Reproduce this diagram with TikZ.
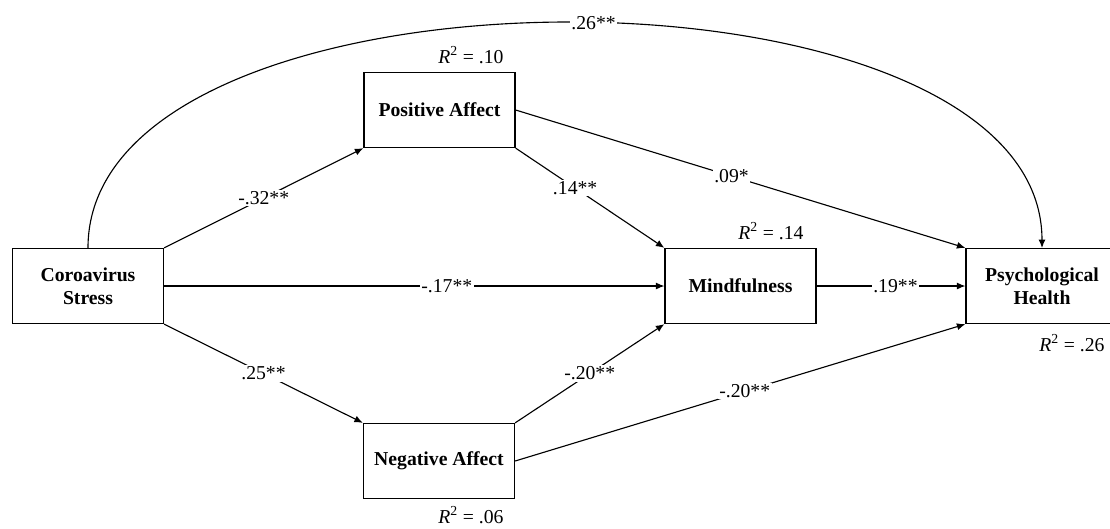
\documentclass[tikz,border=0pt]{standalone}
\usepackage{fontspec}
\setmainfont{Liberation Serif}
\usetikzlibrary{positioning,arrows.meta}

\tikzset{
  varbox/.style={draw, line width=0.9pt, minimum width=3.775cm, minimum height=1.875cm,
    align=center, font=\fontsize{14}{16.5}\selectfont\bfseries},
  coef/.style={fill=white, inner sep=1pt, font=\fontsize{14}{16}\selectfont},
  rsq/.style={font=\fontsize{14}{16}\selectfont},
  link/.style={line width=0.8pt, -{Latex[length=6pt,width=5pt]}},
}

\begin{document}
\begin{tikzpicture}[x=0.025cm, y=-0.025cm]
    \useasboundingbox (0,0) rectangle (1110,528);

    % variables
    \node[varbox] (stress) at (88,286) {Coroavirus\\Stress};
    \node[varbox] (pos) at (439.5,110) {Positive Affect};
    \node[varbox] (mind) at (740.5,286) {Mindfulness};
    \node[varbox] (neg) at (439,461) {Negative Affect};
    \node[varbox, minimum width=4.2cm] (health) at (1050,286) {\hspace*{-0.4cm}Psychological\\\hspace*{-0.4cm}Health};

    % explained variance
    \node[rsq] (rpos) at (471,55) {\textit{R}\textsuperscript{2} = .10};
    \node[rsq] (rmind) at (771,231) {\textit{R}\textsuperscript{2} = .14};
    \node[rsq] (rneg) at (471,515) {\textit{R}\textsuperscript{2} = .06};
    \node[rsq] (rhealth) at (1072,343) {\textit{R}\textsuperscript{2} = .26};

    % paths
    \draw[link] (stress.north east) -- (pos.south west) node[coef, midway] {-.32**};
    \draw[link] (stress.east) -- (mind.west) node[coef, pos=0.565] {-.17**};
    \draw[link] (stress.south east) -- (neg.north west) node[coef, midway] {.25**};
    \draw[link] (pos.south east) -- (mind.north west) node[coef, pos=0.4] {.14**};
    \draw[link] (pos.east) -- (health.north west) node[coef, pos=0.48] {.09*};
    \draw[link] (neg.north east) -- (mind.south west) node[coef, midway] {-.20**};
    \draw[link] (neg.east) -- (health.south west) node[coef, pos=0.51] {-.20**};
    \draw[link] (mind.east) -- (health.west) node[coef, pos=0.53] {.19**};

    % direct effect
    \coordinate (top1) at (stress.north);
    \coordinate (top2) at (1042,248);
    \draw[link] (top1) .. controls (88,-52) and (1042,-52) .. (top2) node[coef, pos=0.52] {.26**};
\end{tikzpicture}
\end{document}
